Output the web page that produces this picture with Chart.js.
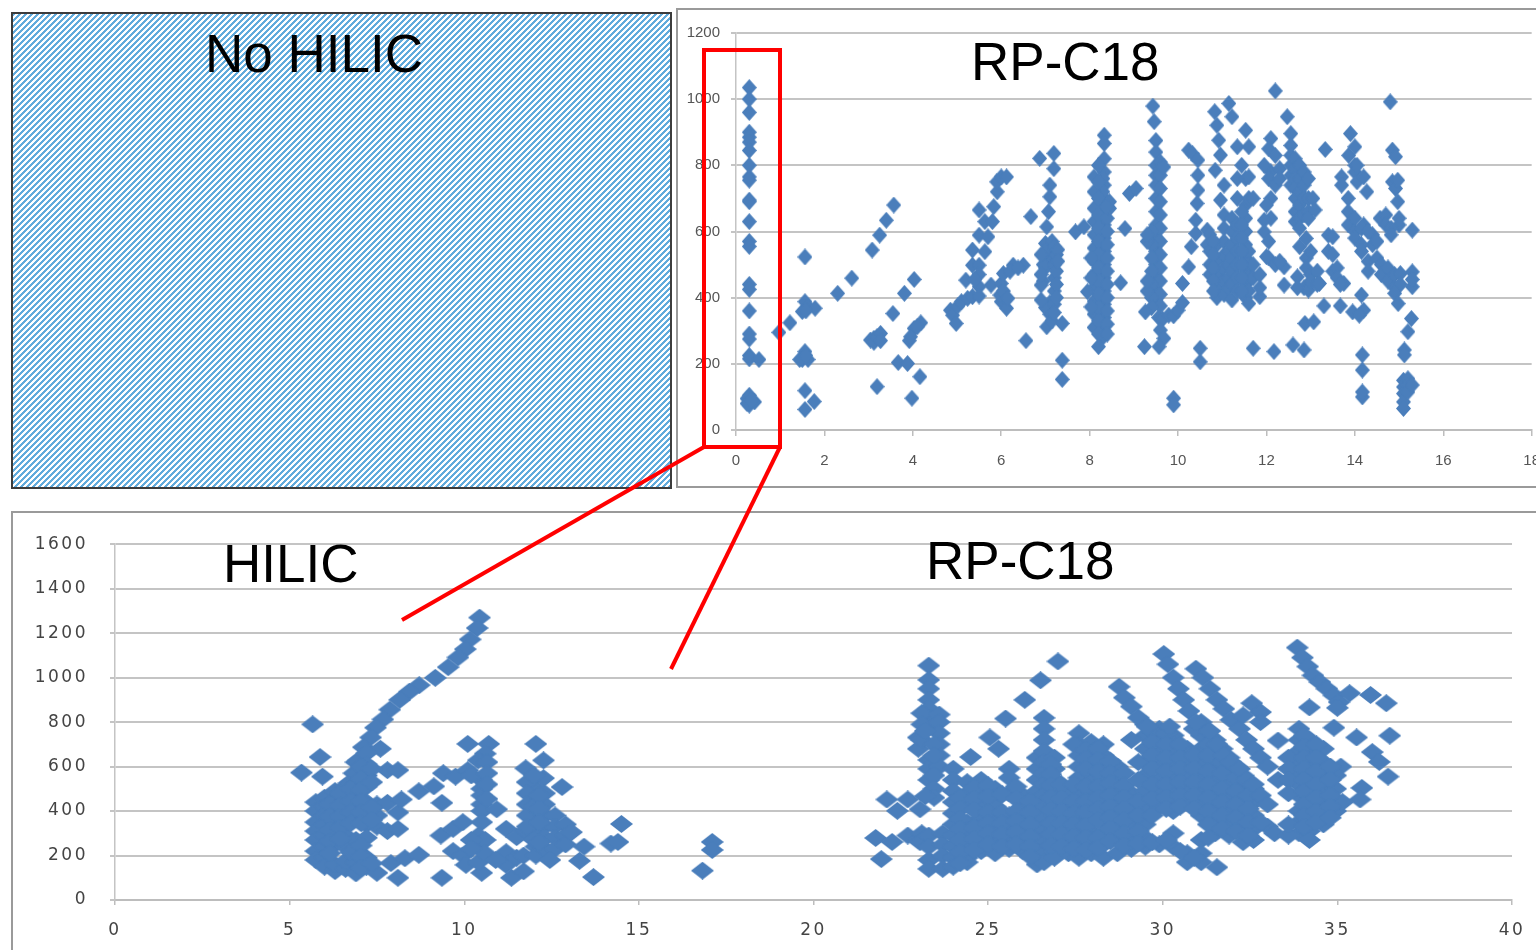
<!DOCTYPE html>
<html>
<head>
<meta charset="utf-8">
<title>HILIC / RP-C18 retention</title>
<script src="https://cdn.jsdelivr.net/npm/chart.js@4"></script>
<style>
  html, body { margin: 0; height: 100%; background: #fff; overflow: hidden; }
  .panel { position: absolute; box-sizing: border-box; }
  #hatch { left: 11px; top: 12px; width: 661px; height: 477px; border: 2px solid #3c3c3c;
    background-image: linear-gradient(135deg, #62abdc 25%, #fff 25%, #fff 50%, #62abdc 50%, #62abdc 75%, #fff 75%);
    background-size: 6px 6px; }
  #topFrame { left: 676px; top: 8px; width: 880px; height: 480px; border: 2px solid #9a9a9a; }
  #bottomFrame { left: 11px; top: 511px; width: 1545px; height: 460px; border: 2px solid #9a9a9a; }
  canvas { position: absolute; filter: blur(0.5px); }
  #topChart { left: 676px; top: 9px; }
  #bottomChart { left: 11px; top: 512px; }
  .label { position: absolute; font: 53px "Liberation Sans", sans-serif; color: #000; line-height: 1; white-space: nowrap; }
  svg { position: absolute; left: 0; top: 0; }
</style>
</head>
<body>
<div class="panel" id="hatch"></div>
<div class="panel" id="topFrame"></div>
<div class="panel" id="bottomFrame"></div>
<canvas id="topChart" width="880" height="478"></canvas>
<canvas id="bottomChart" width="1545" height="438"></canvas>
<div class="label" style="left:205px;top:27px">No HILIC</div>
<div class="label" style="left:971px;top:35px">RP-C18</div>
<div class="label" style="left:223px;top:537px">HILIC</div>
<div class="label" style="left:926px;top:534px">RP-C18</div>
<svg width="1536" height="950" fill="none" stroke="#f00" stroke-width="4">
  <path d="M704 50H780V447H704Z"/>
  <path d="M704 447L402 620"/>
  <path d="M780 447L671 669"/>
</svg>
<script>
// every row is [x, y, y, y...]
const topTicksX = [0, 2, 4, 6, 8, 10, 12, 14, 16, 18];
const topTicksY = [0, 200, 400, 600, 800, 1000, 1200];
const bottomTicksX = [0, 5, 10, 15, 20, 25, 30, 35, 40];
const bottomTicksY = [0, 200, 400, 600, 800, 1000, 1200, 1400, 1600];

const topFront = [[0.3,1035,1000,960,900,885,870,845,800,765,755,695,690,630,570,555,440,425,360,290,275,225,215,105,85,75],
  [0.25,95,80],[0.42,85],[0.35,90],[0.52,213],[0.97,295],[1.22,324]];
const topEarly = [[1.56,523,388,237,119,62],[1.5,358,213],[1.63,373,213],[1.79,368],[1.77,86],[1.44,213],[1.58,360,225],
  [2.3,413],[2.62,459],[3.08,544],[3.25,589],[3.4,634],[3.57,680],[3.04,272],[3.12,277,265],[3.19,282,131],[3.27,292,270],
  [3.55,352],[3.81,413],[4.03,455,307],[3.67,204],[3.88,201],[3.98,96],[4.16,161],[3.92,270],[3.95,282],[4.18,324],[4.1,312]];
const topMid = [[4.85,362],[4.9,347],[4.98,322],[5.02,375],[5.1,388],[5.24,398],[5.35,403,498,544],[5.2,453],
  [5.5,498,433,589,665,405,470],[5.77,438],[5.4,455],[5.63,539,630],[5.7,584],[5.8,630],[5.83,675],[5.91,720],[5.9,750],
  [6.0,765,388,443],[6.12,765,368],[5.97,408],[6.05,473,420],[6.15,398],[6.27,498],[6.2,480],[6.5,498],[6.38,490],[6.56,270],[6.67,645]];
const topSeven = [[6.87,821],[7.19,836,790],[7.1,740,705,560,520,350,385],[7.07,660],[7.03,614,312],[7.0,564,520,490,370,540],
  [6.95,500,450],[6.9,438,393,470,530],[7.15,570,350,330],[7.2,554,500,460,420,380,355],[7.25,530,480,440,400],[7.28,545,510],
  [7.38,322,211,153],[7.68,599],[7.87,614]];
const topEight = [[8.33,891,866,820,780,740,700,660,620,580,540,500,460,420,380,340,300],[8.3,760,720,680,640,600,560,520,480,440,400,360,320,280],
  [8.1,765,720,670,630,590,550,510,470,430,390,350,310],[8.2,800,750,700,650,610,570,530,490,450,410,370,330,290,252],
  [8.4,675,640,600,560,520,480,440,400,360,320,290],[7.95,418],[8.03,372,460,520],[8.45,670,690]];
const topNine = [[9.43,979],[9.46,932],[9.5,875,840,800,770,740,700,660,620,580,540,500,460,420,390],
  [9.6,810,790,770,730,690,650,610,570,530,490,450,410,375],[9.68,795],[9.4,600,560,520,480,440,400,370],[9.3,570,420,450,590],[9.26,357],
  [9.56,340],[9.65,335],[9.79,347],[9.9,345],[10,362],[10.1,443,385],[10.24,493,846],[10.3,554],[10.4,594,634],[9.6,302],[9.68,277],
  [9.57,252],[9.24,252],[8.7,445],[8.8,609],[8.9,715],[9.05,730],[8.38,675],[9.9,96,76],[10.5,247,206],[10.33,835],[10.45,816,770,725],[10.43,685]];
const topEleven = [[10.83,962],[10.88,921,560,510,470,430,400],[10.92,876],[10.96,831,695],[10.84,785],[11.04,740,650,610,570,530,490,450,410],
  [10.66,604,560],[10.72,590,540,500,470],[10.8,570,530,490,450,420],[11.15,987,540,500,460,430],[11.22,947,640,600,560,520,480,440,393],
  [11.34,856,760,700,620,580,540,500,460,420],[11.53,906,760,680,640,600,560,520,480,440,400],[11.6,856,765,700,540,500,460,420,382],
  [11.7,700,500,460,247],[11.85,403,430,470],[11.44,800,660,620,580,540,500,460,420]];
const topTwelve = [[12.17,237],[12.2,1025],[12.1,881,780,700,640],[11.95,800,634,599],[12.05,850,760,570,520],[12,524,680],[12.2,500,830,740],
  [12.4,493,438],[12.3,510,790,760],[12.47,947],[12.55,896,860,830,800,770,740],[12.65,820,790,760,730,700,660,630],[12.75,554,800,760,720,680,640,610],
  [12.85,780,740,700,650,242,430],[12.95,423,760,700,660,640],[13.05,700],[13.1,665],[12.7,463,430],[12.87,322],[13.07,327],[12.6,257],
  [13.33,848],[12.9,579,520,490],[13.0,540,470,450],[13.15,480,440],[13.2,443],[13.3,375],[13.4,589,540],[13.5,584,530,480],[13.6,490,460],
  [13.75,443],[13.67,375,440]];
const topFourteen = [[13.9,896],[13.86,830],[14,856,800,780],[14.05,800,750],[14.2,765,620],[14.27,720],[14.57,640],[14.7,650,620],[14.4,590,560],
  [13.7,765,740],[13.85,700,660,620],[14.0,640,600,580],[14.15,610,560,540],[14.3,600,510,480],[14.5,570,520],[14.6,500,470],[14.75,490,450],[14.9,470,430],[15.03,473,440],
  [14.8,992],[14.85,846,750],[14.92,826,730],[14.97,755,690],[15.0,640,620],[14.82,610,590],[14.9,413],[14.98,382],[14.15,408],[14.2,362],[13.95,357],[14.1,347],
  [15.3,604,478,433,455],[15.28,337],[15.2,297],[15.12,242,227],[14.17,227,181,100,115],[15.1,150,130,110,85,65],[15.2,155,135,115],[15.3,136]];

const bottomHilicCurve = [[5.66,790],[5.34,573],[5.87,643],[5.94,555],[10.44,1270],[10.37,1223],[10.17,1172],[10.03,1128],[9.82,1091],[9.54,1047],[9.17,999],
  [8.71,966],[8.43,937],[8.15,900],[7.87,856],[7.67,812],[7.46,775],[7.32,731],[7.11,687],[7.6,680],[6.98,628],[6.84,570],[6.7,526],[6.5,482]];
const bottomHilicBlob = [[5.75,440,400,350,310,270,220,180],[6.0,460,420,380,340,290,240,190,150],[6.3,490,450,400,350,300,250,130,160],
  [6.6,510,460,420,370,290,240,140,175],[6.9,620,570,520,470,420,370,270,220,170,120],[7.2,660,610,560,510,440,390,340,280,190,150],
  [7.5,430,380,330,122],[7.8,437,584,310],[8.1,394,584,320,100],[7.9,166],[8.3,188],[8.7,203,489],[8.2,452],[9.13,511],[9.36,437,100],[9.4,570],[9.75,555],[10.1,584,702],
  [6.15,430,375,315,265,210],[6.45,480,425,375,325,275],[6.75,500,445,395,345,215],[7.05,600,545,495,445,395,345,245,195,145],[7.35,590,530,415,360,165]];
const bottomHilicRight = [[10.7,702],[10.6,658],[10.4,628],[10.5,540,500,470,430,400,350,122],[10.93,408],[9.33,290],[9.68,320,220],[9.96,350,200],[10.05,158],[10.4,290,250,170],[10.6,270,210],
  [11.2,320,158,215],[11.5,283,190],[11.76,312,592],[10.9,180],[11.35,100],[11.7,129,200],[12.05,702,500,450,400,350,300,240,200],[12.27,628,548],[12.8,508],
  [11.8,530,480,430,380,330],[12.3,480,430,380,330,280,230],[12.6,380,330,280,230],[12.9,340,290,250],[13.07,305],[12.45,180],[13.43,240],[13.3,176],[13.7,103],[14.2,254],[14.4,261],[14.5,342],
  [16.82,132],[17.1,261,225],[10.2,560,270,230],[10.65,620,570,520,455],[12.0,560,420,270],[12.15,470,410,350,260]];

const bottomRpLeft = [[21.78,279],[22.25,261],[21.94,184],[22.1,452],[22.4,401],[22.7,452,290],[23.3,1054,990,950,900,860,820,780,630,590,540],[23.0,731,680,270],[23.1,840,790,720,300],
  [23.6,834,800,750,700,650,600],[23.45,700,650,560,500,460],[23.2,467,760],[23.05,408,260],[23.3,290,240,180,140],[23.7,300,250,200,140],[24.5,643],[25.5,816],[26.05,900],[26.5,988],[27,1073],[25.05,731],[25.3,680]];
const bottomRpBand = [[24,590,540,490,440,390,340,290,240,190,150],[24.4,530,480,430,350,300,250,190,170],[24.8,540,480,430,370,330,280,220],[25.2,500,450,420,370,320,270,210],
  [25.6,590,550,480,380,330,280,230],[26.0,470,420,370,310,260,220],[26.4,640,590,540,490,440,390,340,290,240,190,160],[26.6,819,770,720,670,620,570,520,470,420,370,320,270,220,170],
  [26.9,640,590,540,490,430,380,320,270,220,190],[27.3,480,420,370,320,270,210],[27.6,750,700,650,600,550,500,460,410,360,300,250,190],[27.95,710,660,620,570,530,480,420,370,310,260,210],
  [28.3,700,650,600,550,500,450,400,350,300,250,190],[28.7,600,550,500,440,390,330,280,210],[29.1,480,410,350,280,230],[29.5,790,740,680,620,560,490,420,340,280,240],
  [29.9,770,720,660,600,540,480,420,250],[30.3,740,680,620,560,500,440,400,300,240],[30.7,680,620,560,500,440,210,170],[31.1,800,740,680,620,560,500,440,380,270,210,170],
  [31.5,720,660,600,540,480,420,360,300],[31.9,640,580,520,460,400,340,290],[32.3,560,500,440,380,320,260],[32.6,500,440,380,320,270],
  [24.2,460,410,365,320,270,215,165],[24.6,505,455,405,325,275,225],[25.0,515,465,395,345,300,250],[25.4,475,395,345,295,240],[25.8,510,455,400,355,305,250],
  [26.2,445,395,340,285,240,195],[26.8,610,565,515,460,405,345,295,245],[27.1,520,455,400,345,295,240],[27.45,700,520,445,390,340,285,230],[27.8,675,635,590,510,445,395,335,280,225],
  [28.15,680,630,580,510,460,410,360,280,235],[28.5,625,570,525,470,420,370,320,265],[28.9,570,515,460,410,360,300,245],[29.3,620,540,445,380,310,255],[29.7,760,710,650,590,520,455,380,260],
  [30.1,750,700,640,580,520,460,410,270],[30.5,700,640,590,530,470,420,220],[30.9,770,650,590,530,470,410,190],[31.3,760,700,650,580,520,460,400,340,280],[31.7,680,620,570,500,440,380,320],[32.1,600,550,490,430,370,310],[32.45,530,470,410,350,290]];
const bottomRpDiagonals = [[28.75,959],[28.9,910],[29.1,870,720],[29.3,820],[29.55,780],[30.03,1106],[30.15,1060],[30.3,1000],[30.45,950],[30.6,900],[30.75,850],[30.95,800,1040],
  [31.15,1000],[31.35,950,760],[31.55,900,700],[31.75,860,650],[31.95,810,620],[32.2,770,590],[32.4,720,540],[32.6,680,520],[32.8,640,470],[33,600,430,330],[33.3,540,717],[33.2,300],
  [32.55,885],[32.8,845,800,350],[32.3,830],[30.2,780],[33.85,1135],[34,1090],[34.15,1050],[34.3,1010],[34.5,980],[34.7,950],[34.9,920],[35.05,890],[35.35,930],[34.2,866],[35,864],
  [35.95,922],[36.4,885],[34.9,775],[35.55,731],[36.5,739],[36,665],[36.2,621],[36.45,555],[35.1,600],[35.7,504],[35.65,452],[31.55,147],
  [33.9,770,720,670,620,570,520,470,400,350,300],[34.2,720,660,600,540,480,420,360,310,270],[34.6,680,620,560,500,440,380,340],[34.95,560,500,440,400],[35.15,440],[33.6,640,590,540,480,290,340],
  [34.05,740,690,640,590,540,490,430,380,330],[34.4,700,640,580,520,460,400,350],[34.8,600,540,470,420,370]];

const diamondColor = '#4a7ebb';

function diamond(w, h) {
  const c = document.createElement('canvas');
  c.width = w;
  c.height = h;
  const g = c.getContext('2d');
  g.fillStyle = diamondColor;
  g.beginPath();
  g.moveTo(w / 2, 0);
  g.lineTo(w, h / 2);
  g.lineTo(w / 2, h);
  g.lineTo(0, h / 2);
  g.closePath();
  g.fill();
  return c;
}

function toPoints(rows) {
  return rows.flatMap(([x, ...ys]) => ys.map((y) => ({ x, y })));
}

function drawChart(id, o) {
  const ctx = document.getElementById(id).getContext('2d');
  return new Chart(ctx, {
    type: 'scatter',
    data: {
      datasets: [{
        data: o.rows.flatMap(toPoints),
        pointStyle: diamond(o.w, o.h),
        pointRadius: 8,
        showLine: false,
      }],
    },
    plugins: [{
      id: 'spacing',
      beforeDraw(chart) {
        chart.ctx.letterSpacing = o.spacing;
      },
    }],
    options: {
      responsive: false,
      animation: false,
      layout: { padding: o.padding },
      plugins: { legend: { display: false }, tooltip: { enabled: false } },
      scales: {
        x: {
          type: 'linear',
          min: 0,
          max: o.ticksX[o.ticksX.length - 1],
          afterBuildTicks: (s) => { s.ticks = o.ticksX.map((value) => ({ value })); },
          afterFit: (s) => { s.height = o.axisH; },
          grid: { drawOnChartArea: false, drawTicks: true, tickLength: o.tick, color: '#bdbdbd', lineWidth: 1.5 },
          border: { color: '#bdbdbd', width: 2 },
          ticks: { color: o.textColor, font: o.font, maxRotation: 0, padding: o.padX, callback: (v) => String(v) },
        },
        y: {
          min: 0,
          max: o.ticksY[o.ticksY.length - 1],
          afterBuildTicks: (s) => { s.ticks = o.ticksY.map((value) => ({ value })); },
          afterFit: (s) => { s.width = o.axisW; },
          grid: { color: '#c4c4c4', lineWidth: 2, tickLength: 5 },
          border: { color: '#c4c4c4', width: 1.5 },
          ticks: { color: o.textColor, font: o.font, padding: o.padY, callback: (v) => String(v) },
        },
      },
    },
  });
}

drawChart('topChart', {
  rows: [topFront, topEarly, topMid, topSeven, topEight, topNine, topEleven, topTwelve, topFourteen],
  ticksX: topTicksX,
  ticksY: topTicksY,
  w: 15,
  h: 17,
  spacing: '0px',
  font: { family: '"Liberation Sans"', size: 15 },
  textColor: '#555',
  padding: { left: 4, top: 24, right: 24, bottom: 0 },
  axisW: 56,
  axisH: 57,
  tick: 6,
  padX: 16,
  padY: 11,
});

drawChart('bottomChart', {
  rows: [bottomHilicCurve, bottomHilicBlob, bottomHilicRight, bottomRpLeft, bottomRpBand, bottomRpDiagonals],
  ticksX: bottomTicksX,
  ticksY: bottomTicksY,
  w: 23,
  h: 18,
  spacing: '2.5px',
  font: { family: '"DejaVu Sans"', size: 17 },
  textColor: '#444',
  padding: { left: 6, top: 25, right: 44, bottom: 0 },
  axisW: 98,
  axisH: 50,
  tick: 5,
  padX: 15,
  padY: 22,
});
</script>
</body>
</html>
